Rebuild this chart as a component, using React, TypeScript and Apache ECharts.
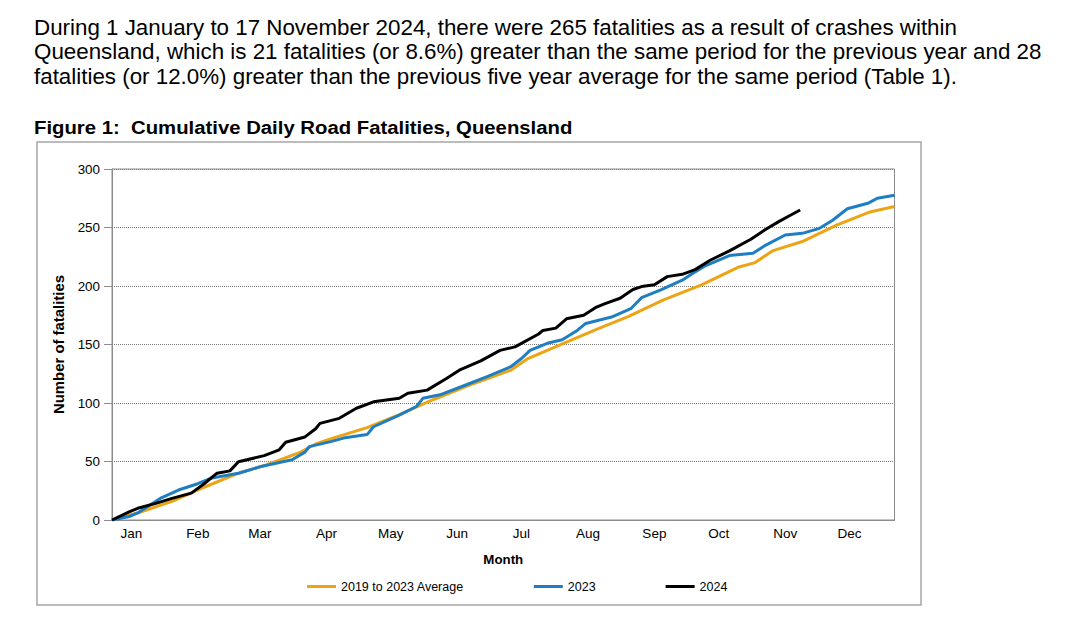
import React, { useEffect, useRef } from "react";
import * as echarts from "echarts";

// Paragraph + figure title
const paragraphLines = [
  "During 1 January to 17 November 2024, there were 265 fatalities as a result of crashes within",
  "Queensland, which is 21 fatalities (or 8.6%) greater than the same period for the previous year and 28",
  "fatalities (or 12.0%) greater than the previous five year average for the same period (Table 1).",
];
const figureTitle = "Figure 1:  Cumulative Daily Road Fatalities, Queensland";

// Axis
const monthNames = ["Jan", "Feb", "Mar", "Apr", "May", "Jun", "Jul", "Aug", "Sep", "Oct", "Nov", "Dec"];
const monthStartDays = [0, 31, 60, 91, 121, 152, 182, 213, 244, 274, 305, 335];
const monthLabelDays = monthStartDays.map((d) => d + 9);
const yTicks = [0, 50, 100, 150, 200, 250, 300];

// Series: [day of year, cumulative fatalities]
const avg2019to2023: [number, number][] = [
  [0, 0], [12, 6], [28, 16], [43, 28], [59, 40], [72, 47], [88, 58], [95, 65], [103, 70],
  [119, 79], [134, 90], [150, 103], [165, 114], [186, 128], [194, 138], [212, 152],
  [226, 163], [241, 174], [257, 188], [275, 201], [292, 216], [300, 220], [308, 230],
  [322, 238], [338, 252], [353, 263], [365, 268],
];
const fatal2023: [number, number][] = [
  [0, 0], [8, 3], [12, 6], [23, 19], [31, 25.6], [40, 31], [46, 35.6], [59, 40], [70, 46],
  [84, 51.5], [90, 58], [92, 62.7], [102, 67], [108, 70], [119, 73], [122, 79.7], [134, 89.7],
  [142, 97], [145, 104], [153, 107], [165, 115.4], [175, 122.5], [186, 131], [191, 138],
  [195, 145], [203, 151], [210, 154], [217, 162], [221, 168], [233, 173.5], [242, 180.6],
  [247, 190], [256, 196.6], [266, 205], [271, 211], [277, 217.5], [288, 226], [299, 228],
  [305, 235], [314, 243.6], [322, 245], [330, 249.3], [336, 256], [343, 266], [353, 271],
  [357, 275], [365, 277.5],
];
const fatal2024: [number, number][] = [
  [0, 0], [8, 7], [12, 10], [20, 14], [28, 18.5], [37, 23], [43, 31], [49, 40], [55, 42],
  [59, 49.8], [71, 55], [78, 60], [81, 66.5], [90, 71], [95, 78], [97, 82.6], [106, 86.9],
  [114, 95.5], [122, 101], [134, 104], [138, 108.3], [147, 111], [156, 121], [162, 128],
  [172, 136], [181, 145], [188, 148], [199, 159], [201, 162], [207, 164], [212, 172],
  [220, 175], [226, 182], [230, 185], [237, 189.5], [243, 197], [247, 199.5], [253, 201],
  [259, 208], [266, 210], [272, 214], [279, 222], [288, 230], [298, 240], [305, 248.5],
  [311, 255], [316, 260], [321, 265],
];

const seriesNames = ["2019 to 2023 Average", "2023", "2024"];
const seriesColors = ["#EDA414", "#1F7EC1", "#000000"];

const FONT = "'Liberation Sans', Arial, Helvetica, sans-serif";

export default function App() {
  const ref = useRef<HTMLDivElement>(null);
  useEffect(() => {
    if (!ref.current) return;
    const chart = echarts.init(ref.current, undefined, { renderer: "svg" });
    const seriesData = [avg2019to2023, fatal2023, fatal2024];
    chart.setOption({
      animation: false,
      backgroundColor: "#ffffff",
      textStyle: { fontFamily: FONT },
      graphic: [
        {
          type: "rect",
          shape: { x: 37, y: 142, width: 884, height: 463 },
          style: { fill: "none", stroke: "#a6a6a6", lineWidth: 1.5 },
          silent: true,
          z: -1,
        },
        ...paragraphLines.map((t, i) => ({
          type: "text",
          x: 34,
          y: 27.5 + i * 24.5,
          scaleX: 1.04,
          style: {
            text: t,
            fontSize: 21.5,
            fontFamily: FONT,
            fill: "#000",
            align: "left",
            verticalAlign: "middle",
          },
        })),
        {
          type: "text",
          x: 34,
          y: 127,
          scaleX: 1.07,
          style: {
            text: figureTitle,
            fontSize: 19,
            fontWeight: "bold",
            fontFamily: FONT,
            fill: "#000",
            align: "left",
            verticalAlign: "middle",
          },
        },
      ],
      grid: {
        left: 112,
        right: 185.5,
        top: 169,
        bottom: 106,
        show: true,
        borderColor: "#8c8c8c",
        borderWidth: 1,
        backgroundColor: "transparent",
      },
      legend: {
        data: seriesNames,
        left: 307,
        top: 580,
        padding: 0,
        itemWidth: 29,
        itemHeight: 3,
        itemGap: 70,
        icon: "rect",
        textStyle: { fontSize: 12.5, color: "#000", fontFamily: FONT },
      },
      xAxis: {
        type: "value",
        min: 0,
        max: 365,
        name: "Month",
        nameLocation: "middle",
        nameGap: 33,
        nameTextStyle: { fontSize: 13.3, fontWeight: "bold", color: "#000", fontFamily: FONT },
        axisLine: { show: true, lineStyle: { color: "#8c8c8c", width: 1 } },
        axisTick: { show: false },
        splitLine: { show: false },
        axisLabel: {
          customValues: monthLabelDays,
          formatter: (v: number) => {
            const idx = monthLabelDays.indexOf(v);
            return idx >= 0 ? monthNames[idx] : "";
          },
          fontSize: 13.5,
          color: "#000",
          margin: 6,
          fontFamily: FONT,
        },
      },
      yAxis: {
        type: "value",
        min: yTicks[0],
        max: yTicks[yTicks.length - 1],
        interval: 50,
        name: "Number of fatalities",
        nameLocation: "middle",
        nameGap: 42,
        nameTextStyle: { fontSize: 14.9, fontWeight: "bold", color: "#000", fontFamily: FONT },
        axisLine: { show: true, lineStyle: { color: "#8c8c8c", width: 1 } },
        axisTick: { show: true, length: 8, lineStyle: { color: "#8c8c8c" } },
        axisLabel: { fontSize: 13.4, color: "#000", margin: 12, fontFamily: FONT },
        splitLine: { show: true, lineStyle: { color: "#777777", width: 1, type: [1, 1] } },
      },
      series: seriesNames.map((name, i) => ({
        name,
        type: "line",
        data: seriesData[i],
        showSymbol: false,
        symbol: "none",
        lineStyle: { color: seriesColors[i], width: 3 },
        itemStyle: { color: seriesColors[i] },
        z: 2 + i,
      })),
    });
    return () => chart.dispose();
  }, []);
  return (
    <div
      ref={ref}
      style={{ position: "fixed", left: 0, top: 0, width: 1080, height: 626, background: "#fff" }}
    />
  );
}
